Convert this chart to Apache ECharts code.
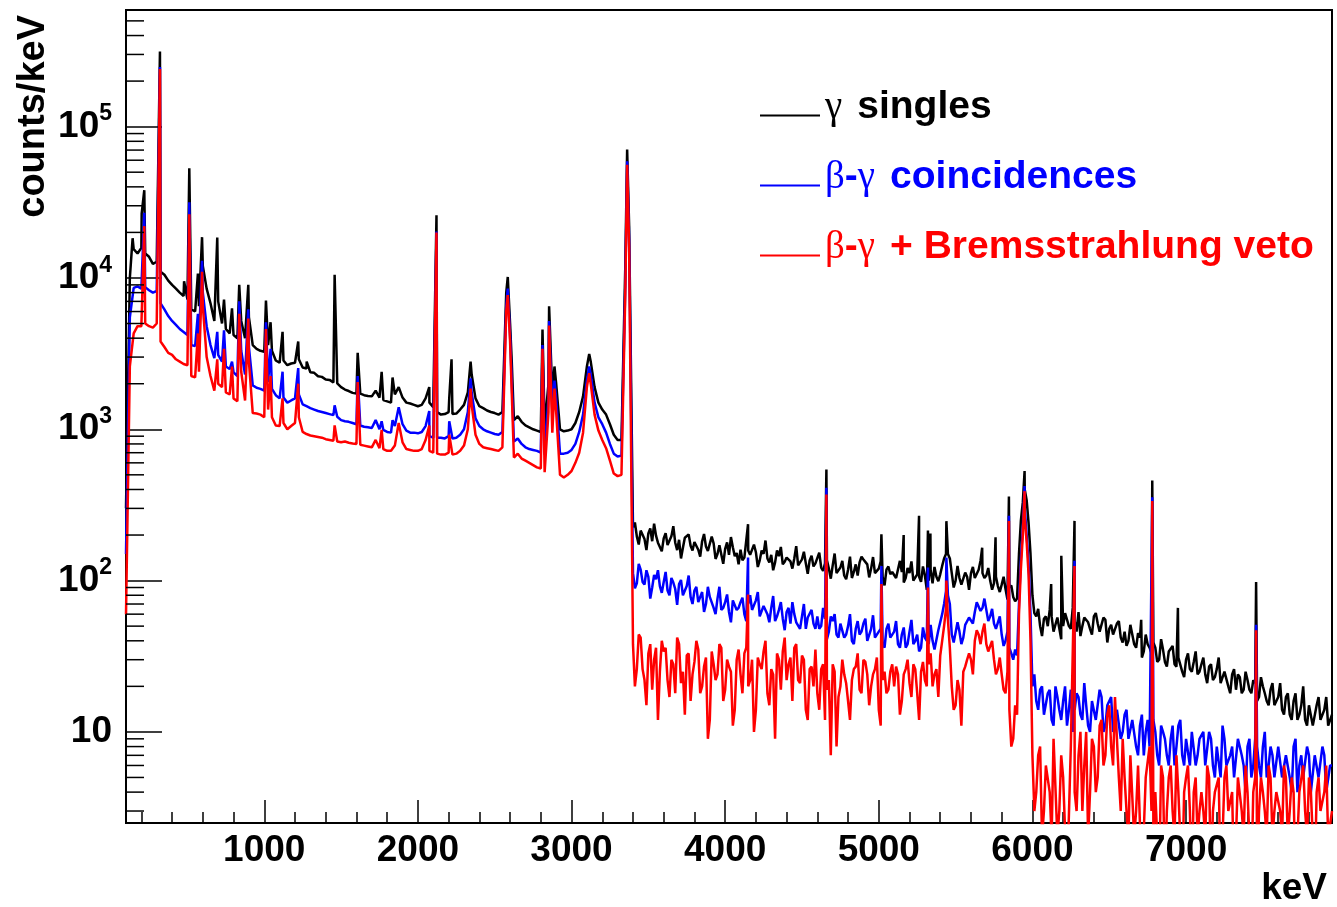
<!DOCTYPE html>
<html>
<head>
<meta charset="utf-8">
<script src="https://cdn.jsdelivr.net/npm/echarts@6/dist/echarts.min.js"></script>
<style>
html, body { margin: 0; padding: 0; background: #fff; }
#chart { width: 1337px; height: 907px; }
</style>
</head>
<body>
<div id="chart"></div>
<script>
// spectra sampled every 25 keV from 100 keV (one row = 500 keV)
const E0 = 100;
const STEP = 25;

const singles = [
  300, 10000, 15500, 14500, 15800, 14500, 13800, 12400, 12800, 11000, 10500, 9600, 9000, 8500, 8000, 7600, 7200, 6200, 6000, 6500,
  12000, 8500, 6800, 5200, 7000, 5000, 4600, 4300, 4200, 4000, 5200, 4000, 5500, 3600, 3400, 3300, 3250, 3600, 3300, 2850,
  2750, 2850, 2650, 2720, 2750, 2900, 2560, 2520, 2380, 2360, 2240, 2220, 2130, 2120, 2040, 2010, 1900, 1830, 1790, 1740,
  1720, 1720, 1680, 1660, 1650, 1800, 1620, 1560, 1530, 1500, 1700, 1900, 1620, 1500, 1480, 1450, 1420, 1450, 1600, 1500,
  1400, 1300, 1250, 1260, 1300, 1260, 1270, 1350, 1450, 1750, 2300, 1600, 1420, 1380, 1330, 1300, 1280, 1250, 1300, 8000,
  5000, 1150, 1220, 1120, 1060, 1030, 1000, 980, 960, 1050, 2000, 1700, 2000, 1000, 970, 980, 1000, 1100, 1300, 1650,
  2600, 2800, 1900, 1500, 1350, 1250, 1080, 920, 850, 850, 12000, 22000, 225, 196, 214, 188, 205, 182, 198, 176,
  190, 172, 196, 178, 186, 165, 190, 170, 180, 160, 182, 168, 158, 176, 150, 170, 162, 148, 166, 152,
  160, 142, 158, 146, 154, 136, 150, 140, 148, 132, 145, 128, 142, 134, 140, 126, 138, 130, 136, 124,
  134, 122, 130, 120, 126, 112, 122, 108, 118, 104, 128, 132, 138, 128, 120, 112, 120, 106, 118, 110,
  116, 106, 114, 104, 112, 100, 110, 98, 108, 100, 96, 106, 110, 140, 150, 112, 100, 104, 96, 106,
  112, 104, 118, 112, 108, 100, 96, 92, 94, 88, 90, 78, 76, 250, 400, 240, 80, 58, 50, 56,
  50, 58, 46, 56, 50, 60, 48, 54, 62, 50, 57, 48, 58, 52, 46, 55, 48, 44, 52, 42,
  46, 40, 44, 36, 42, 34, 38, 33, 36, 30, 35, 27, 33, 28, 31, 25, 30, 26, 29, 24,
  28, 24, 27, 22, 26, 21, 25, 20, 24, 19, 23, 19, 22, 18, 21, 17, 20, 16, 19, 15,
  17, 14, 17, 13, 16, 12, 15, 12, 15, 11, 15, 12, 14, 11, 13
];

const coincidences = [
  150, 5500, 8600, 8800, 8500, 8700, 8300, 8000, 8200, 6800, 6200, 5600, 5200, 4900, 4600, 4400, 4200, 3600, 3550, 3800,
  8000, 4800, 3600, 2950, 3100, 2800, 2600, 2500, 2380, 2250, 3300, 2300, 3500, 1950, 1880, 1850, 1800, 2050, 1850, 1680,
  1600, 1620, 1500, 1550, 1600, 1700, 1460, 1420, 1380, 1350, 1320, 1300, 1280, 1260, 1240, 1210, 1150, 1130, 1120, 1100,
  1080, 1060, 1040, 1030, 1020, 1150, 1000, 990, 960, 950, 1050, 1400, 1080, 980, 950, 950, 940, 960, 1050, 900,
  880, 880, 880, 870, 900, 870, 880, 920, 1000, 1300, 1750, 1180, 1050, 1000, 970, 950, 930, 920, 960, 6500,
  4200, 830, 870, 800, 760, 740, 730, 720, 700, 680, 1600, 1300, 1600, 690, 690, 700, 730, 800, 960, 1250,
  2100, 2300, 1500, 1200, 1080, 950, 800, 690, 660, 670, 9000, 18000, 112, 96, 118, 94, 106, 90, 102, 92,
  98, 86, 104, 88, 95, 80, 92, 78, 86, 72, 84, 70, 78, 66, 76, 64, 72, 62, 74, 64,
  72, 60, 70, 64, 74, 58, 68, 60, 66, 54, 64, 56, 62, 52, 60, 54, 58, 48, 58, 52,
  58, 50, 56, 46, 54, 44, 52, 42, 50, 40, 48, 44, 52, 40, 48, 42, 46, 38, 48, 42,
  46, 38, 44, 36, 46, 38, 44, 36, 42, 38, 40, 36, 46, 70, 80, 44, 40, 46, 42, 50,
  56, 62, 70, 66, 64, 58, 52, 48, 44, 40, 36, 30, 32, 140, 300, 130, 20, 16, 19, 13,
  18, 12, 20, 14, 16, 11, 19, 14, 17, 12, 15, 10, 16, 12, 17, 11, 15, 10, 14, 9,
  13, 9, 12, 8, 11, 7, 12, 8, 10, 6, 10, 7, 9, 6, 11, 7, 9, 6, 10, 7,
  9, 6, 10, 6, 8, 5, 9, 6, 8, 5, 9, 6, 8, 5, 9, 6, 8, 5, 8, 5,
  8, 5, 7, 5, 8, 4, 7, 5, 7, 4, 7, 5, 7, 4, 6
];

const vetoed = [
  60, 2600, 4300, 4800, 4800, 5000, 4800, 4700, 5000, 3800, 3500, 3200, 3100, 2900, 2800, 2700, 2650, 2250, 2200, 2400,
  6500, 3000, 2250, 1800, 2000, 1900, 1750, 1700, 1600, 1530, 2400, 1550, 2800, 1280, 1270, 1250, 1200, 1350, 1200, 1060,
  1050, 1100, 1000, 1050, 1100, 1200, 960, 930, 910, 900, 890, 880, 860, 850, 840, 830, 820, 830, 815, 805,
  800, 790, 780, 770, 760, 850, 750, 740, 720, 720, 780, 1100, 820, 740, 730, 720, 720, 740, 850, 720,
  700, 690, 680, 680, 700, 680, 690, 720, 780, 1000, 1450, 920, 800, 760, 750, 740, 730, 720, 760, 6000,
  3800, 650, 690, 640, 620, 600, 580, 560, 550, 520, 1300, 950, 1300, 500, 480, 500, 530, 600, 700, 950,
  1900, 2000, 1250, 980, 850, 750, 620, 510, 490, 500, 8000, 16000, 38, 26, 42, 22, 33, 19, 36, 25,
  34, 22, 30, 18, 38, 25, 32, 16, 29, 35, 20, 31, 12, 28, 24, 36, 19, 27, 11, 30,
  24, 33, 20, 30, 14, 28, 34, 18, 26, 9, 30, 34, 22, 31, 36, 22, 32, 14, 26, 20,
  18, 26, 12, 22, 28, 8, 20, 24, 16, 22, 27, 19, 30, 24, 20, 26, 14, 22, 18, 25,
  20, 24, 16, 26, 21, 28, 18, 25, 22, 28, 20, 26, 32, 50, 55, 20, 15, 19, 25, 30,
  30, 40, 44, 46, 38, 34, 30, 26, 24, 18, 14, 9, 13, 120, 260, 110, 7, 4, 8, 3,
  6, 2, 9, 3, 5, 1, 8, 4, 7, 3, 10, 4, 8, 5, 12, 7, 15, 6, 9, 3,
  5, 2, 7, 3, 6, 1, 5, 3, 4, 1, 5, 3, 6, 2, 4, 1, 5, 3, 4, 2,
  4, 2, 5, 3, 4, 1, 5, 3, 4, 2, 5, 2, 4, 1, 5, 3, 4, 2, 5, 3,
  4, 2, 5, 3, 4, 1, 4, 3, 5, 2, 4, 3, 4, 2, 3
];

// extra samples in the noisy high-energy part, halfway between the ones above
const MID0 = 3412.5;
const singlesMid = [
  242, 173, 211, 159, 221, 238, 178, 156,
  206, 176, 229, 159, 140, 192, 202, 158, 178, 144, 203, 157, 195, 139, 171, 129, 179, 194, 145, 128,
  136, 185, 148, 173, 123, 158, 184, 132, 117, 158, 167, 133, 145, 120, 169, 126, 155, 111, 146, 130,
  153, 116, 136, 103, 151, 115, 135, 102, 144, 114, 108, 144, 139, 105, 143, 109, 134, 93, 124, 114,
  104, 135, 97, 121, 134, 98, 106, 124, 87, 117, 123, 99, 125, 150, 140, 90, 125, 94, 113, 87,
  123, 101, 136, 104, 121, 87, 106, 84, 106, 75, 93, 73, 150, 330, 340, 150, 61, 65, 43, 58,
  64, 46, 57, 41, 61, 50, 66, 46, 43, 57, 53, 44, 61, 46, 57, 39, 51, 45, 54, 39,
  37, 51, 38, 45, 31, 44, 36, 39, 29, 41, 29, 34, 37, 27, 31, 23, 33, 25, 34, 25,
  31, 21, 28, 23, 31, 21, 25, 18, 26, 24, 18, 25, 19, 22, 16, 23, 18, 15, 21, 15,
  21, 13, 18, 12, 18, 13, 20, 11, 15, 11, 17, 12, 17, 11
];
const coincidencesMid = [
  89, 129, 98, 117, 76, 109, 117, 83,
  114, 80, 97, 69, 101, 81, 108, 70, 91, 71, 62, 91, 79, 60, 91, 66, 81, 53, 76, 66,
  77, 54, 80, 64, 84, 57, 68, 53, 79, 58, 72, 47, 66, 72, 53, 48, 70, 57, 64, 48,
  48, 66, 41, 58, 60, 42, 53, 44, 60, 38, 54, 46, 56, 39, 59, 41, 48, 36, 52, 43,
  54, 36, 49, 38, 55, 40, 34, 49, 40, 51, 35, 47, 60, 85, 70, 39, 53, 38, 51, 57,
  52, 72, 63, 76, 54, 65, 48, 58, 37, 46, 33, 35, 70, 220, 200, 60, 24, 14, 20, 13,
  19, 11, 17, 12, 20, 14, 10, 18, 13, 21, 11, 16, 12, 19, 10, 15, 17, 11, 14, 10,
  14, 9, 12, 7, 13, 10, 8, 12, 7, 11, 9, 6, 11, 8, 12, 6, 9, 10, 6, 9,
  10, 6, 9, 5, 8, 11, 6, 7, 5, 9, 7, 4, 9, 6, 8, 5, 10, 6, 7, 5,
  8, 5, 7, 4, 9, 6, 5, 8, 4, 7, 5, 8, 4, 6
];
const vetoedMid = [
  20, 44, 26, 15, 38, 30, 12, 40,
  36, 17, 28, 42, 21, 13, 33, 24, 40, 18, 27, 9, 34, 22, 38, 16, 30, 25, 14, 35,
  18, 36, 22, 10, 31, 26, 40, 15, 24, 33, 19, 42, 28, 16, 38, 21, 30, 12, 27, 35,
  14, 28, 19, 7, 25, 17, 30, 21, 12, 26, 33, 18, 29, 15, 24, 31, 11, 25, 19, 28,
  27, 13, 24, 30, 17, 26, 12, 29, 20, 33, 24, 17, 40, 65, 36, 14, 22, 11, 27, 33,
  24, 47, 38, 52, 34, 40, 24, 31, 19, 25, 8, 15, 60, 200, 180, 40, 3, 7, 2, 6,
  4, 9, 2, 7, 5, 1, 8, 3, 10, 6, 2, 9, 4, 11, 6, 13, 8, 17, 5, 9,
  3, 7, 2, 6, 1, 5, 8, 2, 4, 6, 1, 5, 3, 7, 2, 4, 6, 1, 5, 3,
  3, 6, 1, 4, 5, 2, 6, 3, 1, 5, 3, 6, 2, 4, 1, 5, 3, 6, 2, 4,
  3, 6, 2, 5, 1, 4, 6, 2, 4, 1, 5, 3, 6, 2
];

// narrow lines [keV, counts/keV]
const singlesPeaks = [
  [143, 18300], [202, 26600], [219, 38000], [321, 314000], [478, 9500], [512, 53000], [568, 10700],
  [595, 18600], [694, 18500], [738, 7200], [790, 6300], [837, 9000], [896, 9000], [1011, 7100],
  [1041, 5100], [1119, 4400], [1221, 3800], [1276, 2800], [1458, 10500], [1608, 3200], [1764, 2400],
  [1835, 2200], [2074, 1900], [2121, 26000], [2204, 1600], [2219, 2900], [2343, 2800], [2585, 10150],
  [2611, 2800], [2811, 4560], [2854, 6500], [2889, 2600], [3115, 3150], [3362, 70700], [4149, 236],
  [4659, 542], [5017, 202], [5162, 200], [5262, 268], [5320, 214], [5336, 205], [5440, 247],
  [5673, 165], [5760, 193], [5847, 360], [5949, 530], [6122, 95], [6188, 146], [6274, 248],
  [6708, 55], [6780, 459], [6947, 66], [7456, 98]
];
const coincidencePeaks = [
  [219, 27000], [321, 248000], [512, 31600], [568, 5800], [595, 13000], [694, 4400], [738, 4500],
  [790, 2800], [837, 7000], [896, 6200], [1011, 5100], [1041, 3400], [1119, 2400], [1221, 2540],
  [1458, 1440], [1608, 2250], [1764, 1130], [1835, 1150], [2074, 1320], [2121, 20300], [2204, 1130],
  [2343, 2170], [2585, 8500], [2811, 3600], [2854, 5200], [2889, 2100], [3115, 2600], [3362, 59000],
  [4149, 142], [4659, 410], [5017, 125], [5320, 122], [5440, 142], [5847, 268], [5949, 422],
  [6274, 135], [6780, 355], [7456, 51]
];
const vetoPeaks = [
  [219, 22000], [321, 240000], [512, 26400], [568, 4300], [595, 11000], [694, 2900], [738, 3400],
  [790, 2600], [837, 5800], [896, 5400], [1011, 4600], [1041, 2250], [1119, 1600], [1221, 2000],
  [1458, 1060], [1608, 2050], [1764, 990], [2074, 1060], [2121, 20000], [2204, 920], [2343, 1860],
  [2585, 7700], [2811, 3400], [2854, 4850], [2889, 1860], [3115, 2350], [3362, 56000], [4149, 81],
  [4659, 370], [5017, 95], [5320, 90], [5440, 100], [5847, 248], [5949, 390], [6274, 125],
  [6780, 336], [7456, 47]
];

const yMinorTicks = [
  3, 4, 5, 6, 7, 8, 9,
  20, 30, 40, 50, 60, 70, 80, 90,
  200, 300, 400, 500, 600, 700, 800, 900,
  2000, 3000, 4000, 5000, 6000, 7000, 8000, 9000,
  20000, 30000, 40000, 50000, 60000, 70000, 80000, 90000,
  200000, 300000, 400000, 500000
];

const names = ['singles', 'coinc', 'veto'];
const colors = ['#000000', '#0000ff', '#ff0000'];

function spectrum(values, mid, peaks) {
  const pts = values.map((v, i) => [E0 + STEP * i, v])
    .concat(mid.map((v, i) => [MID0 + STEP * i, v]));
  return pts.concat(peaks).sort((a, b) => a[0] - b[0]);
}

const sans = 'Liberation Sans, Arial, Helvetica, sans-serif';
const serif = 'Liberation Serif, Times New Roman, serif';

function legendStyles(c) {
  return {
    g: { fontFamily: serif, fontSize: 39, color: c, lineHeight: 44 },
    h: { fontFamily: sans, fontWeight: 'bold', fontSize: 39, color: c, lineHeight: 44 },
    w: { fontFamily: sans, fontWeight: 'bold', fontSize: 39, color: c, lineHeight: 44, padding: [0, 0, 0, 15] }
  };
}
const ls = [legendStyles(colors[0]), legendStyles(colors[1]), legendStyles(colors[2])];

const chart = echarts.init(document.getElementById('chart'));

const option = {
  animation: false,
  backgroundColor: '#fff',
  grid: {
    left: 126, right: 5, top: 10, bottom: 80,
    show: true, borderColor: '#000', borderWidth: 2
  },
  legend: {
    orient: 'vertical',
    left: 755, top: 83,
    itemWidth: 60, itemHeight: 2, itemGap: 31,
    icon: 'rect',
    selectedMode: false,
    data: names,
    formatter: function (n) {
      if (n === 'singles') return '{g0|γ}{w0|singles}';
      if (n === 'coinc') return '{g1|β}{h1|-}{g1|γ}{w1|coincidences}';
      return '{g2|β}{h2|-}{g2|γ}{w2|+ Bremsstrahlung veto}';
    },
    textStyle: {
      padding: [0, 0, 16, 0],
      rich: {
        g0: ls[0].g, h0: ls[0].h, w0: ls[0].w,
        g1: ls[1].g, h1: ls[1].h, w1: ls[1].w,
        g2: ls[2].g, h2: ls[2].h, w2: ls[2].w
      }
    }
  },
  graphic: [{
    type: 'text',
    x: 15, y: 15,
    rotation: Math.PI / 2,
    style: {
      text: 'counts/keV',
      font: 'bold 38px ' + sans,
      fill: '#000',
      align: 'right',
      verticalAlign: 'top'
    }
  }],
  xAxis: {
    type: 'value',
    min: 100, max: 7950,
    splitNumber: 8, minInterval: 1000, maxInterval: 1000,
    axisLine: { lineStyle: { color: '#000', width: 2 } },
    axisTick: { inside: true, length: 23, lineStyle: { color: '#000', width: 1.5 } },
    minorTick: { show: true, splitNumber: 5, length: 11, lineStyle: { color: '#000', width: 1.5 } },
    splitLine: { show: false },
    minorSplitLine: { show: false },
    axisLabel: {
      showMinLabel: false, showMaxLabel: false,
      formatter: v => String(v),
      color: '#000', fontFamily: sans, fontWeight: 'bold', fontSize: 37, margin: 9
    },
    name: 'keV',
    nameLocation: 'end',
    nameGap: -5,
    nameTextStyle: {
      color: '#000', fontFamily: sans, fontWeight: 'bold', fontSize: 37,
      align: 'right', verticalAlign: 'top', padding: [47, 0, 0, 0]
    }
  },
  yAxis: {
    type: 'log', logBase: 10,
    min: 2.5, max: 590000,
    axisLine: { lineStyle: { color: '#000', width: 2 } },
    axisTick: { inside: true, length: 36, lineStyle: { color: '#000', width: 1.5 } },
    splitLine: { show: false },
    axisLabel: {
      showMinLabel: false, showMaxLabel: false, margin: 14,
      formatter: function (v) {
        const p = Math.round(Math.log10(v));
        return p === 1 ? '{b|10}' : '{b|10}{s|' + p + '}';
      },
      rich: {
        b: { color: '#000', fontFamily: sans, fontWeight: 'bold', fontSize: 37, lineHeight: 48 },
        s: { color: '#000', fontFamily: sans, fontWeight: 'bold', fontSize: 23, verticalAlign: 'top', lineHeight: 22 }
      }
    }
  },
  series: [
    {
      name: 'singles', type: 'line', symbol: 'none', color: colors[0],
      lineStyle: { width: 2.5 }, data: spectrum(singles, singlesMid, singlesPeaks)
    },
    {
      name: 'coinc', type: 'line', symbol: 'none', color: colors[1],
      lineStyle: { width: 2.5 }, data: spectrum(coincidences, coincidencesMid, coincidencePeaks)
    },
    {
      name: 'veto', type: 'line', symbol: 'none', color: colors[2],
      lineStyle: { width: 2.5 }, data: spectrum(vetoed, vetoedMid, vetoPeaks)
    },
    {
      // log minor ticks (2..9 x decade) along the left axis
      type: 'custom', silent: true, clip: false, z: 5,
      data: yMinorTicks.map(v => [E0, v]),
      renderItem: function (params, api) {
        const p = api.coord([api.value(0), api.value(1)]);
        const x0 = params.coordSys.x;
        return {
          type: 'line',
          shape: { x1: x0, y1: p[1], x2: x0 + 18, y2: p[1] },
          style: { stroke: '#000', lineWidth: 1.5 }
        };
      }
    }
  ]
};

chart.setOption(option);
</script>
</body>
</html>
